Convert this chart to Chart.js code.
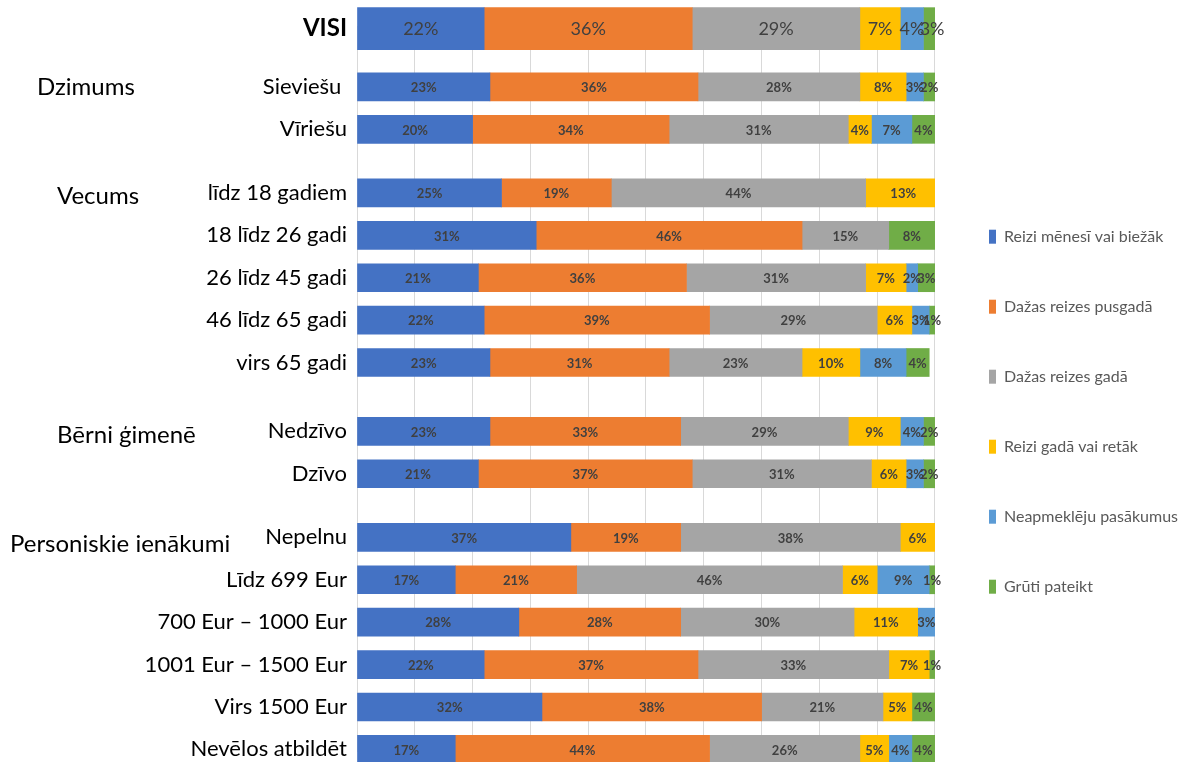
<!DOCTYPE html>
<html>
<head>
<meta charset="utf-8">
<script src="https://cdn.jsdelivr.net/npm/chart.js@4.4.1/dist/chart.umd.min.js"></script>
<style>
  body { margin: 0; background: #fff; }
  #wrap { width: 1182px; height: 762px; position: relative; }
</style>
</head>
<body>
<div id="wrap"><canvas id="chartCanvas"></canvas></div>
<script>
const rowLabels = ['VISI', 'Sieviešu ', 'Vīriešu', 'līdz 18 gadiem', '18 līdz 26 gadi', '26 līdz 45 gadi',
  '46 līdz 65 gadi', 'virs 65 gadi', 'Nedzīvo', 'Dzīvo', 'Nepelnu', 'Līdz 699 Eur', '700 Eur – 1000 Eur',
  '1001 Eur – 1500 Eur', 'Virs 1500 Eur', 'Nevēlos atbildēt'];
const seriesNames = ['Reizi mēnesī vai biežāk', 'Dažas reizes pusgadā', 'Dažas reizes gadā',
  'Reizi gadā vai retāk', 'Neapmeklēju pasākumus', 'Grūti pateikt'];
const seriesColors = ['#4472C4', '#ED7D31', '#A5A5A5', '#FFC000', '#5B9BD5', '#70AD47'];

const reiziMenesi    = [22, 23, 20, 25, 31, 21, 22, 23, 23, 21, 37, 17, 28, 22, 32, 17];
const dazasPusgada   = [36, 36, 34, 19, 46, 36, 39, 31, 33, 37, 19, 21, 28, 37, 38, 44];
const dazasGada      = [29, 28, 31, 44, 15, 31, 29, 23, 29, 31, 38, 46, 30, 33, 21, 26];
const reiziGadaRetak = [7, 8, 4, 13, null, 7, 6, 10, 9, 6, 6, 6, 11, 7, 5, 5];
const neapmekleju    = [4, 3, 7, null, null, 2, 3, 8, 4, 3, null, 9, 3, null, null, 4];
const grutiPateikt   = [3, 2, 4, null, 8, 3, 1, 4, 2, 2, null, 1, null, 1, 4, 4];

const groupLabels = ['Dzimums', 'Vecums', 'Bērni ģimenē', 'Personiskie ienākumi'];
const groupRows = [1, 3, 8, 10];
const groupX = [37, 57, 57, 10];
const groupDy = [0, 3, 4, 7];

// spacing of each row below the previous one, in eighths of a row
const rowSteps = [0, 11, 8, 12, 8, 8, 8, 8, 13, 8, 12, 8, 8, 8, 8, 8];

const rowSlot = [];
let slot = 0;
rowSteps.forEach(s => { slot += s; rowSlot.push(slot); });
const categories = Array(slot + 1).fill('');
rowLabels.forEach((l, i) => { categories[rowSlot[i]] = l; });

const spread = (values, visiOnly) => {
  const out = Array(categories.length).fill(null);
  values.forEach((v, i) => {
    if ((i === 0) === visiOnly) out[rowSlot[i]] = v;
  });
  return out;
};

const allSeries = [reiziMenesi, dazasPusgada, dazasGada, reiziGadaRetak, neapmekleju, grutiPateikt];
const barClip = { left: 0, right: 0, top: false, bottom: false };
const datasets = [];
allSeries.forEach((vals, i) => {
  datasets.push({ label: seriesNames[i], data: spread(vals, false), backgroundColor: seriesColors[i],
    stack: 'rows', barThickness: 28, grouped: false, clip: barClip });
});
allSeries.forEach((vals, i) => {
  datasets.push({ label: seriesNames[i], data: spread(vals, true), backgroundColor: seriesColors[i],
    stack: 'visi', barThickness: 42, grouped: false, clip: barClip });
});

// percent labels inside the bars + group captions on the left
const barLabels = {
  id: 'barLabels',
  afterDatasetsDraw(chart) {
    const { ctx } = chart;
    ctx.save();
    ctx.textAlign = 'center';
    ctx.textBaseline = 'middle';
    ctx.fillStyle = '#404040';
    chart.data.datasets.forEach((ds, di) => {
      const meta = chart.getDatasetMeta(di);
      ctx.font = ds.stack === 'visi' ? '18px Lato' : 'bold 13px Lato';
      meta.data.forEach((bar, i) => {
        const v = ds.data[i];
        if (v == null) return;
        const p = bar.getCenterPoint();
        ctx.fillText(v + '%', p.x, p.y + 1);
      });
    });
    const yScale = chart.scales.y;
    ctx.font = '24px Lato';
    ctx.fillStyle = '#000';
    ctx.textAlign = 'left';
    groupLabels.forEach((g, i) => {
      ctx.fillText(g, groupX[i], yScale.getPixelForValue(rowSlot[groupRows[i]]) + groupDy[i]);
    });
    ctx.restore();
  }
};

Chart.defaults.font.family = 'Lato';

new Chart(document.getElementById('chartCanvas').getContext('2d'), {
  type: 'bar',
  data: { labels: categories, datasets },
  options: {
    indexAxis: 'y',
    responsive: true,
    maintainAspectRatio: false,
    animation: false,
    layout: { padding: { top: 26, bottom: 10, left: 0, right: -6 } },
    scales: {
      x: {
        stacked: true, min: 0, max: 100,
        ticks: { display: false, stepSize: 10 },
        grid: { color: '#d9d9d9', drawTicks: false },
        border: { display: false },
        afterFit: s => { s.height = 0; }
      },
      y: {
        stacked: true,
        grid: { display: false, drawTicks: false },
        border: { display: false },
        ticks: {
          autoSkip: false, padding: 10, color: '#000',
          font: c => (c.tick && c.tick.label === 'VISI') ? { size: 24, weight: 'bold' } : { size: 22 }
        },
        afterFit: s => {
          s.width = 357;
          s.paddingTop = 0;
          s.paddingBottom = 0;
        }
      }
    },
    plugins: {
      legend: {
        position: 'right',
        title: { display: true, text: ' ', padding: { top: 0, bottom: 31 } },
        labels: {
          boxWidth: 7, boxHeight: 14, padding: 54, color: '#595959', font: { size: 16 },
          filter: item => item.datasetIndex < 6
        }
      },
      tooltip: { mode: 'nearest', intersect: true }
    }
  },
  plugins: [barLabels]
});
</script>
</body>
</html>
